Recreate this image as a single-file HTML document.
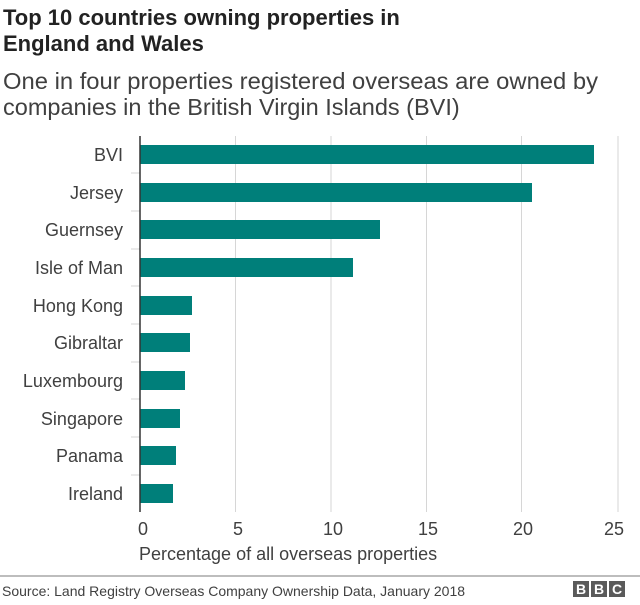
<!DOCTYPE html>
<html><head><meta charset="utf-8"><style>
body{margin:0;width:640px;height:600px;background:#fff;font-family:"Liberation Sans",Arial,sans-serif;color:#222;overflow:hidden}
</style></head><body>
<svg width="640" height="600" xmlns="http://www.w3.org/2000/svg" font-family="Liberation Sans, Arial, sans-serif">
<text x="3" y="25" font-size="22" font-weight="bold" fill="#222">Top 10 countries owning properties in</text>
<text x="3" y="51" font-size="22" font-weight="bold" fill="#222">England and Wales</text>
<text x="3" y="89" font-size="23.5" fill="#404040" textLength="595" lengthAdjust="spacingAndGlyphs">One in four properties registered overseas are owned by</text>
<text x="3" y="115" font-size="23.5" fill="#404040">companies in the British Virgin Islands (BVI)</text>
<g stroke="#d6d6d6" stroke-width="1">
<line x1="235.5" y1="136" x2="235.5" y2="512"/>
<line x1="331" y1="136" x2="331" y2="512"/>
<line x1="426.5" y1="136" x2="426.5" y2="512"/>
<line x1="521.5" y1="136" x2="521.5" y2="512"/>
<line x1="618" y1="136" x2="618" y2="512"/>
<line x1="131" y1="173" x2="140" y2="173"/><line x1="131" y1="211" x2="140" y2="211"/>
<line x1="131" y1="249" x2="140" y2="249"/><line x1="131" y1="286" x2="140" y2="286"/>
<line x1="131" y1="324" x2="140" y2="324"/><line x1="131" y1="362" x2="140" y2="362"/>
<line x1="131" y1="399" x2="140" y2="399"/><line x1="131" y1="437" x2="140" y2="437"/>
<line x1="131" y1="475" x2="140" y2="475"/>
</g>
<g fill="#007f7a">
<rect x="140" y="145" width="454" height="19"/>
<rect x="140" y="183" width="392" height="19"/>
<rect x="140" y="220" width="240" height="19"/>
<rect x="140" y="258" width="213" height="19"/>
<rect x="140" y="296" width="52" height="19"/>
<rect x="140" y="333" width="50" height="19"/>
<rect x="140" y="371" width="45" height="19"/>
<rect x="140" y="409" width="40" height="19"/>
<rect x="140" y="446" width="36" height="19"/>
<rect x="140" y="484" width="33" height="19"/>
</g>
<line x1="140" y1="136" x2="140" y2="512" stroke="#333" stroke-width="1.5"/>
<g font-size="18" fill="#404040" text-anchor="end">
<text x="123" y="161">BVI</text>
<text x="123" y="199">Jersey</text>
<text x="123" y="236">Guernsey</text>
<text x="123" y="274">Isle of Man</text>
<text x="123" y="312">Hong Kong</text>
<text x="123" y="349">Gibraltar</text>
<text x="123" y="387">Luxembourg</text>
<text x="123" y="425">Singapore</text>
<text x="123" y="462">Panama</text>
<text x="123" y="500">Ireland</text>
</g>
<g font-size="18" fill="#404040" text-anchor="middle">
<text x="143" y="535">0</text>
<text x="238" y="535">5</text>
<text x="333" y="535">10</text>
<text x="428" y="535">15</text>
<text x="523" y="535">20</text>
<text x="614" y="535">25</text>
</g>
<text x="139" y="560" font-size="18" fill="#404040">Percentage of all overseas properties</text>
<line x1="0" y1="576" x2="640" y2="576" stroke="#bdbdbd" stroke-width="2"/>
<text x="2" y="596" font-size="14" fill="#404040">Source: Land Registry Overseas Company Ownership Data, January 2018</text>
<g fill="#5a5a5a">
<rect x="573" y="581" width="16" height="16"/><rect x="591" y="581" width="16" height="16"/><rect x="609" y="581" width="16" height="16"/>
</g>
<g font-size="14" font-weight="bold" fill="#fff" text-anchor="middle">
<text x="581" y="594">B</text><text x="599" y="594">B</text><text x="617" y="594">C</text>
</g>
</svg>
</body></html>
